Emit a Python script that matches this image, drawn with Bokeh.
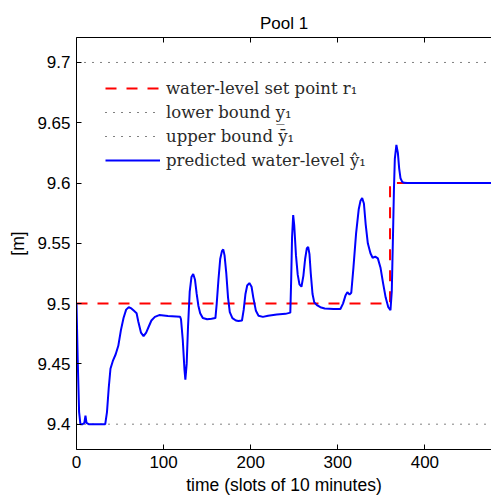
from bokeh.plotting import figure
from bokeh.models import LinearAxis, FixedTicker, Legend, LegendItem, Range1d
from bokeh.embed import file_html
from bokeh.resources import INLINE

# ---- data ----
t_pred = [0, 1.5, 3, 4.5, 7, 9, 10.3, 11.5, 14, 20, 33, 35, 37, 39, 42, 45, 48, 51, 54, 57,
          60, 63, 66, 69, 71, 74, 77, 80, 83, 86, 90, 95, 105, 119, 120, 122, 124, 125, 126.5,
          128, 130, 132, 134, 136, 138, 140, 142, 145, 150, 155, 159.5, 161, 163, 165, 167,
          168.5, 170, 172, 174, 176, 179, 183, 186, 190, 192, 194, 196, 198.5, 201, 203, 206,
          209, 214, 220, 230, 240, 245.5, 246.5, 247.5, 248.8, 250, 252, 254, 256, 258.3,
          260.5, 262.5, 264.5, 266, 267.5, 269, 271, 273, 276, 280, 285, 295, 303, 306, 309,
          311, 313.5, 315.5, 318, 321, 324, 326, 328, 330, 332, 334.5, 337.5, 340, 343, 346,
          349, 352, 355, 358, 360.5, 362, 363.5, 364.5, 365.5, 367.3, 369, 370.5, 372, 374,
          376, 380, 480]
y_pred = [9.5, 9.45, 9.41, 9.4, 9.4, 9.401, 9.407, 9.401, 9.4, 9.4, 9.4, 9.41, 9.43, 9.446,
          9.453, 9.458, 9.465, 9.478, 9.488, 9.495, 9.497, 9.496, 9.494, 9.492, 9.485, 9.476,
          9.473, 9.476, 9.481, 9.486, 9.489, 9.4905, 9.4897, 9.489, 9.487, 9.47, 9.445, 9.437,
          9.45, 9.48, 9.51, 9.522, 9.5246, 9.52, 9.508, 9.498, 9.492, 9.488, 9.487, 9.4875,
          9.488, 9.5, 9.52, 9.537, 9.5435, 9.545, 9.54, 9.525, 9.505, 9.493, 9.488, 9.486,
          9.4855, 9.486, 9.495, 9.508, 9.515, 9.517, 9.514, 9.505, 9.494, 9.49, 9.489, 9.49,
          9.491, 9.4915, 9.4925, 9.52, 9.555, 9.5735, 9.565, 9.54, 9.524, 9.516, 9.514,
          9.523, 9.537, 9.546, 9.547, 9.541, 9.525, 9.508, 9.501, 9.4988, 9.497, 9.496,
          9.4955, 9.4955, 9.5, 9.507, 9.5095, 9.5075, 9.509, 9.53, 9.558, 9.578, 9.585,
          9.5875, 9.583, 9.566, 9.55, 9.5418, 9.538, 9.539, 9.5375, 9.53, 9.517, 9.505,
          9.497, 9.4945, 9.51, 9.56, 9.595, 9.62, 9.6317, 9.625, 9.612, 9.604, 9.601,
          9.6002, 9.6, 9.6]
t_set = [0, 360, 360, 480]
y_set = [9.5, 9.5, 9.6, 9.6]
t_bounds = [0, 480]
y_lower = [9.4, 9.4]
y_upper = [9.7, 9.7]
x_ticks = [0, 100, 200, 300, 400]
y_ticks = [9.4, 9.45, 9.5, 9.55, 9.6, 9.65, 9.7]
y_tick_labels = ["9.4", "9.45", "9.5", "9.55", "9.6", "9.65", "9.7"]

SANS = "Liberation Sans"
SERIF = "DejaVu Serif"

p = figure(width=491, height=502, output_backend="svg", toolbar_location=None,
           x_range=Range1d(0, 476.5), y_range=Range1d(9.379, 9.7207),
           min_border_left=76, min_border_right=0, min_border_top=37, min_border_bottom=53)
p.outline_line_color = None
p.xgrid.visible = False
p.ygrid.visible = False
p.background_fill_color = "white"
p.border_fill_color = "white"

p.title.text = "Pool 1"
p.title.align = "center"
p.title.text_font = SANS
p.title.text_font_size = "17px"
p.title.text_font_style = "normal"
p.title.text_color = "black"

def style_axis(ax, ticks):
    ax.ticker = FixedTicker(ticks=ticks)
    ax.major_tick_in = 5
    ax.major_tick_out = 0
    ax.minor_tick_line_color = None
    ax.axis_line_color = "black"
    ax.major_tick_line_color = "black"
    ax.major_label_text_font = SANS
    ax.major_label_text_font_size = "17px"
    ax.major_label_text_color = "black"
    ax.axis_label_text_font = SANS
    ax.axis_label_text_font_size = "17.5px"
    ax.axis_label_text_font_style = "normal"
    ax.axis_label_text_color = "black"

xa = p.xaxis[0]
style_axis(xa, x_ticks)
xa.axis_label = "time (slots of 10 minutes)"
xa.major_label_standoff = 6
xa.axis_label_standoff = 4

ya = p.yaxis[0]
style_axis(ya, y_ticks)
ya.axis_label = "[m]"
ya.major_label_overrides = dict(zip(y_ticks, y_tick_labels))
ya.major_label_standoff = 6
ya.axis_label_standoff = 6

top = LinearAxis()
style_axis(top, x_ticks)
top.major_label_text_font_size = "1px"
top.major_label_text_color = None
top.major_label_standoff = 0
p.add_layout(top, "above")

r_set = p.line(t_set, y_set, line_color="#ff0000", line_width=2, line_dash="11 10")
r_low = p.line(t_bounds, y_lower, line_color="black", line_width=1, line_dash="1 7")
r_up = p.line(t_bounds, y_upper, line_color="black", line_width=1, line_dash="1 7")
r_pred = p.line(t_pred, y_pred, line_color="#0000ff", line_width=2)

legend = Legend(items=[
    LegendItem(label="water-level set point r\u2081", renderers=[r_set]),
    LegendItem(label="lower bound y\u0332\u2081", renderers=[r_low]),
    LegendItem(label="upper bound \u0233\u2081", renderers=[r_up]),
    LegendItem(label="predicted water-level \u0177\u2081", renderers=[r_pred]),
], location=(29, 277))
legend.padding = 0
legend.margin = 0
legend.spacing = 0
legend.glyph_width = 55
legend.glyph_height = 24
legend.label_height = 24
legend.label_standoff = 6
legend.label_text_font = SERIF
legend.label_text_font_size = "16.5px"
legend.label_text_color = "#2a2a2a"
legend.label_text_baseline = "middle"
legend.border_line_color = None
legend.background_fill_alpha = 0
p.add_layout(legend, "center")

open("out.html", "w").write(file_html(p, INLINE))
